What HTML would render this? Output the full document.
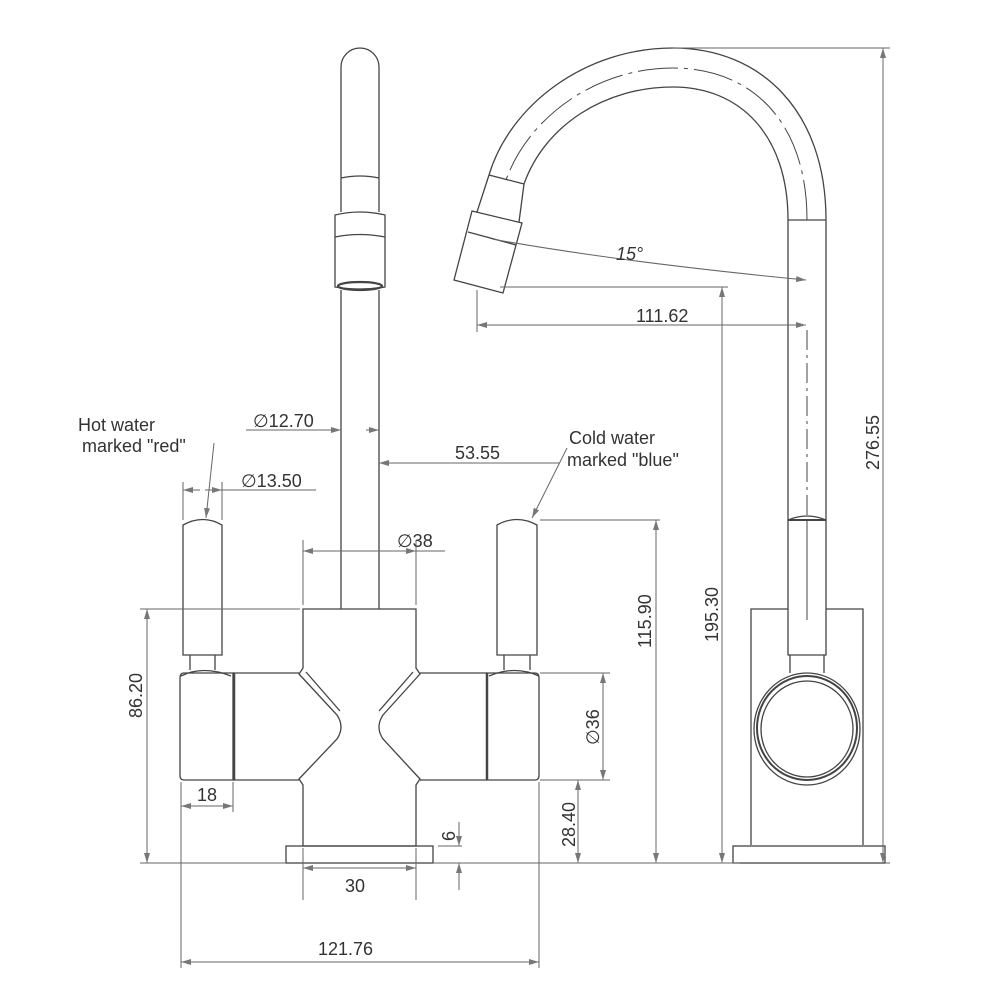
<!DOCTYPE html>
<html><head><meta charset="utf-8"><style>html,body{margin:0;padding:0;background:#fff}svg{display:block}</style></head>
<body>
<svg width="1000" height="1000" viewBox="0 0 1000 1000" xmlns="http://www.w3.org/2000/svg">
<defs>
<marker id="a" viewBox="0 0 10 6" refX="10" refY="3" markerWidth="10" markerHeight="6" orient="auto-start-reverse" markerUnits="userSpaceOnUse"><path d="M0,0 L10,3 L0,6 z" fill="#777"/></marker>
</defs>
<g fill="none" stroke="#444" stroke-width="1.3">
<path d="M341,212 V67 A19,19 0 0 1 379,67 V212"/>
<path d="M341,178 Q360,174 379,178"/>
<path d="M335,215 Q360,209 385,215 V287 Q360,291 335,287 Z"/>
<path d="M335,237 Q360,232 385,237"/>
<ellipse cx="360" cy="286" rx="22" ry="4" stroke-width="2.2"/>
<path d="M341,290 V609 M379,290 V609"/>
<path d="M303,609 H416 V668 L420,674 L383,715 Q375,727 383,739 L420,779 L416,785 V846 H303 V785 L299,779 L337,739 Q345,727 337,715 L299,674 L303,668 Z"/>
<path d="M306,672 L340,711 M413,672 L379,711"/>
<rect x="286" y="846" width="147" height="17"/>
<path d="M183,655 V525 Q203,514 222,525 V655 Z"/>
<path d="M190,655 V670 M215,655 V670"/>
<path d="M181,676 Q203,665 231,676"/>
<path d="M184,673 H233 V780 H184 Q180,780 180,775 V678 Q180,673 184,673 Z"/>
<path d="M233,673 H299 M233,780 H299"/>
<path d="M234,673 V780" stroke-width="2.5"/>
<path d="M497,655 V525 Q517,514 537,525 V655 Z"/>
<path d="M504,655 V670 M530,655 V670"/>
<path d="M489,676 Q515,665 539,676"/>
<path d="M487,673 H535 Q539,673 539,678 V775 Q539,780 535,780 H487 Z"/>
<path d="M420,673 H487 M420,780 H487"/>
<path d="M487,673 V780" stroke-width="2.5"/>

<path d="M826,220 C826,110 760,48 673,48 C585,48 510,105 489,175"/>
<path d="M788,220 C788,135 740,87 673,87 C605,87 545,125 524,184"/>
<path d="M807,220 C807,120 750,68 673,68 C595,68 528,118 506,180" stroke-dasharray="40,6,4,6" stroke-width="1"/>
<path d="M788,220 H826"/>
<path d="M489,175 L524,184 M489,175 L477,212 M524,184 L519,222"/>
<path d="M472,211 L522,223 L503,293 L454,280 Z"/>
<path d="M468,232 L516,245"/>
<path d="M788,220 V520 M826,220 V520"/>
<path d="M807,330 V520" stroke-dasharray="20,5,3,5" stroke-width="1"/>
<path d="M788,520 V655 H826 V520 Q807,512 788,520 Z"/>
<path d="M788,520 H826" stroke-width="2"/>
<path d="M807,520 V620" stroke-width="1"/>
<path d="M751,845 V609 H788 M826,609 H863 V845"/>
<path d="M790,655 V673 M824,655 V673"/>
<ellipse cx="807" cy="729" rx="53" ry="56"/>
<ellipse cx="807" cy="728" rx="50" ry="52" stroke-width="2"/>
<ellipse cx="807" cy="729" rx="46" ry="48"/>
<rect x="733" y="846" width="152" height="17"/>
</g>

<g fill="none" stroke="#666" stroke-width="1">
<path d="M246,430 H341" marker-end="url(#a)"/>
<path d="M366,430 L379,430" marker-end="url(#a)"/>
<path d="M379,463 H560" marker-start="url(#a)"/>
<path d="M183,482 V520 M222,482 V520"/>
<path d="M183,490 H200" marker-start="url(#a)"/><path d="M208,490 H316" /><path d="M205,490 L222,490" marker-end="url(#a)"/>
<path d="M214,443 L206,518" marker-end="url(#a)"/>
<path d="M567,448 L532,518" marker-end="url(#a)"/>
<path d="M303,540 V605 M416,540 V605"/>
<path d="M303,551 H445" marker-start="url(#a)"/><path d="M400,551 L416,551" marker-end="url(#a)"/>
<path d="M140,609 H300 M140,863 H286"/>
<path d="M147,609 V863" marker-start="url(#a)" marker-end="url(#a)"/>
<path d="M181,782 V812 M233,782 V812"/>
<path d="M181,806 H233" marker-start="url(#a)" marker-end="url(#a)"/>
<path d="M303,848 V900 M416,848 V900"/>
<path d="M303,868 H416" marker-start="url(#a)" marker-end="url(#a)"/>
<path d="M438,846 H462 M433,863 H740"/>
<path d="M459,822 V846" marker-end="url(#a)"/><path d="M459,890 V863" marker-end="url(#a)"/>
<path d="M181,782 V968 M539,782 V968"/>
<path d="M181,962 H539" marker-start="url(#a)" marker-end="url(#a)"/>
<path d="M540,520 H660"/>
<path d="M656,520 V863" marker-start="url(#a)" marker-end="url(#a)"/>
<path d="M540,673 H610 M540,780 H610"/>
<path d="M603,673 V780" marker-start="url(#a)" marker-end="url(#a)"/>
<path d="M578,780 V863" marker-start="url(#a)" marker-end="url(#a)"/>
<path d="M492,239 Q620,262 806,280" marker-end="url(#a)"/>
<path d="M500,287 H728"/>
<path d="M722,287 V863" marker-start="url(#a)" marker-end="url(#a)"/>
<path d="M477,290 V332"/>
<path d="M477,325 H806" marker-start="url(#a)" marker-end="url(#a)"/>
<path d="M673,48 H890 M885,863 H890"/>
<path d="M883,48 V863" marker-start="url(#a)" marker-end="url(#a)"/>
</g>

<g font-family="'Liberation Sans', sans-serif" font-size="18" fill="#333">
<text x="253" y="427">∅12.70</text>
<text x="78" y="431">Hot water</text>
<text x="82" y="452">marked "red"</text>
<text x="241" y="487">∅13.50</text>
<text x="455" y="459">53.55</text>
<text x="569" y="444">Cold water</text>
<text x="567" y="466">marked "blue"</text>
<text x="397" y="547">∅38</text>
<text x="197" y="801">18</text>
<text x="345" y="892">30</text>
<text x="318" y="955">121.76</text>
<text x="636" y="322">111.62</text>
<text x="616" y="260" font-style="italic">15°</text>
<text transform="translate(142,718) rotate(-90)">86.20</text>
<text transform="translate(651,648) rotate(-90)">115.90</text>
<text transform="translate(599,745) rotate(-90)">∅36</text>
<text transform="translate(575,847) rotate(-90)">28.40</text>
<text transform="translate(455,841) rotate(-90)">6</text>
<text transform="translate(718,642) rotate(-90)">195.30</text>
<text transform="translate(879,470) rotate(-90)">276.55</text>
</g>
</svg>
</body></html>
